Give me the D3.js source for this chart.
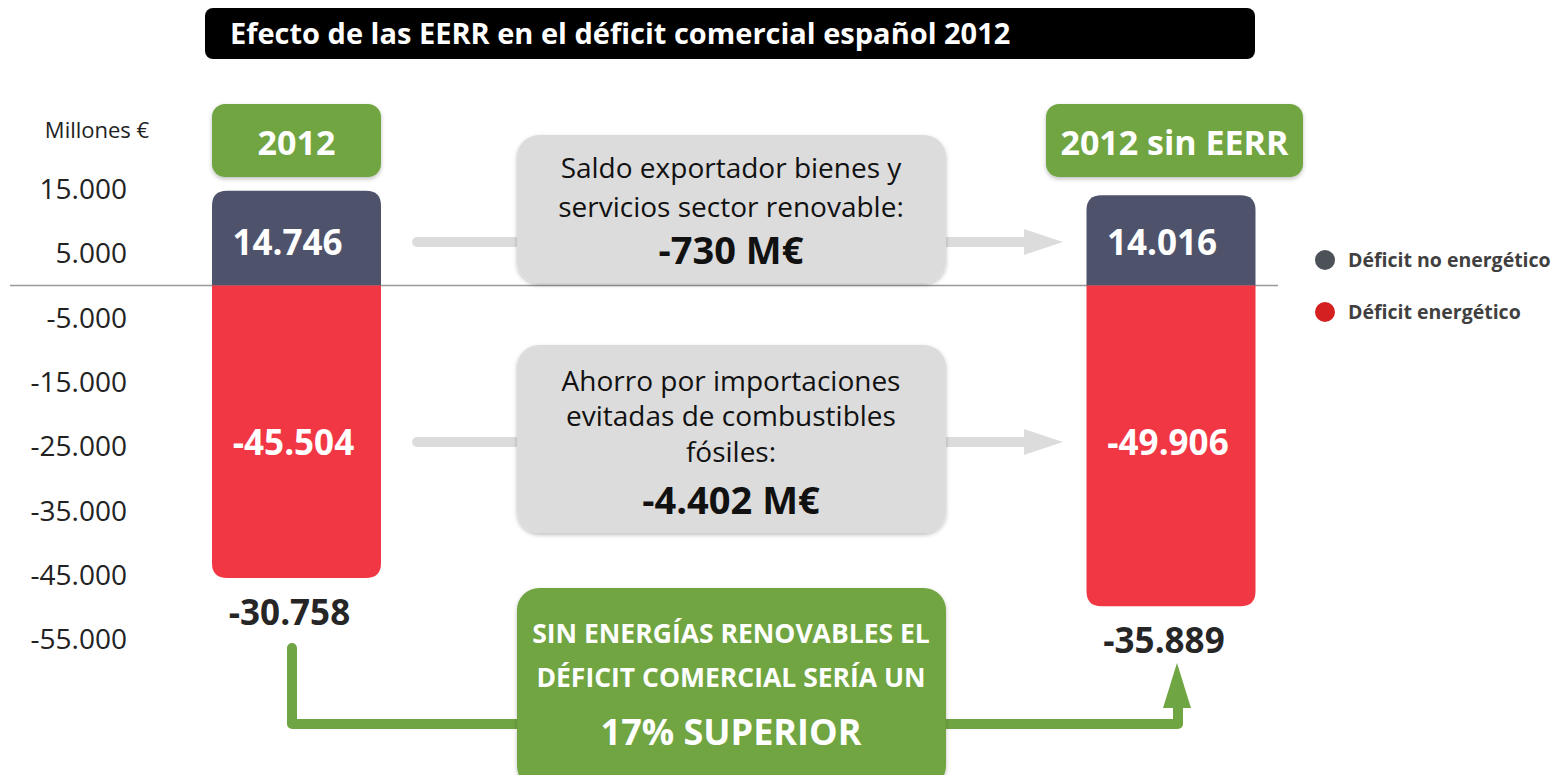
<!DOCTYPE html>
<html>
<head>
<meta charset="utf-8">
<script src="https://cdn.jsdelivr.net/npm/d3@7"></script>
<style>
  body { margin: 0; background: #fff; }
  text { font-family: "Open Sans", "Noto Sans", sans-serif; }
</style>
</head>
<body>
<script>
// data
var categories = ["2012", "2012 sin EERR"];
var nonEnergy = [14746, 14016];
var energy = [-45504, -49906];
var totals = [-30758, -35889];
var ticks = [15000, 5000, -5000, -15000, -25000, -35000, -45000, -55000];
var legendLabels = ["Déficit no energético", "Déficit energético"];

var w = 1558, h = 775;
var navy = "#4e536b", red = "#f23744", green = "#70a543", grey = "#dcdcdc";

var es = d3.formatLocale({decimal: ",", thousands: ".", grouping: [3], currency: ["", "€"], minus: "-"});
var fmt = es.format(",d");

var svg = d3.select("body").append("svg")
  .attr("width", w)
  .attr("height", h);

var defs = svg.append("defs");
var sh = defs.append("filter").attr("id", "shadow")
  .attr("x", "-10%").attr("y", "-10%").attr("width", "120%").attr("height", "130%");
sh.append("feDropShadow").attr("dx", 0).attr("dy", 2).attr("stdDeviation", 2)
  .attr("flood-color", "#000").attr("flood-opacity", 0.25);

var y = d3.scaleLinear().domain([15000, -55000]).range([189, 639]);
var x = d3.scalePoint().domain(categories).range([296.5, 1171]);
var barW = 169;

// title
svg.append("rect").attr("x", 205).attr("y", 8).attr("width", 1050).attr("height", 51)
  .attr("rx", 8).attr("fill", "#000");
svg.append("text").attr("x", 230).attr("y", 44)
  .attr("font-size", "29px").attr("font-weight", "bold").attr("fill", "#fff")
  .text("Efecto de las EERR en el déficit comercial español 2012");

// axis labels
svg.append("text").attr("x", 97).attr("y", 138).attr("text-anchor", "middle")
  .attr("font-size", "22px").attr("fill", "#222").text("Millones €");

svg.selectAll("text.tick")
  .data(ticks)
  .enter()
  .append("text")
  .attr("class", "tick")
  .attr("x", 127)
  .attr("y", function(d) { return y(d); })
  .attr("dy", "0.36em")
  .attr("text-anchor", "end")
  .attr("font-size", "28px")
  .attr("fill", "#222")
  .text(function(d) { return fmt(d); });

// gray arrows
var arrowYs = [242, 442];
arrowYs.forEach(function(ay) {
  svg.append("line").attr("x1", 417).attr("x2", 1030).attr("y1", ay).attr("y2", ay)
    .attr("stroke", grey).attr("stroke-width", 10).attr("stroke-linecap", "round");
  svg.append("path")
    .attr("d", "M1024," + (ay - 13) + "L1063," + ay + "L1024," + (ay + 13) + "Z")
    .attr("fill", grey);
});

// zero line
svg.append("line").attr("x1", 10).attr("x2", 1278).attr("y1", y(0)).attr("y2", y(0))
  .attr("stroke", "#999").attr("stroke-width", 1.5);

// gray info boxes
svg.append("rect").attr("x", 517).attr("y", 135).attr("width", 429).attr("height", 148)
  .attr("rx", 22).attr("fill", grey).attr("filter", "url(#shadow)");
svg.append("rect").attr("x", 517).attr("y", 345).attr("width", 429).attr("height", 188)
  .attr("rx", 22).attr("fill", grey).attr("filter", "url(#shadow)");

var box1 = [["Saldo exportador bienes y", 178, 28, "normal"],
            ["servicios sector renovable:", 217, 28, "normal"],
            ["-730 M€", 264, 38, "bold"]];
var box2 = [["Ahorro por importaciones", 391, 28, "normal"],
            ["evitadas de combustibles", 426, 28, "normal"],
            ["fósiles:", 462, 28, "normal"],
            ["-4.402 M€", 514, 38, "bold"]];
box1.concat(box2).forEach(function(l) {
  svg.append("text").attr("x", 731).attr("y", l[1]).attr("text-anchor", "middle")
    .attr("font-size", l[2] + "px").attr("font-weight", l[3]).attr("fill", "#111")
    .text(l[0]);
});

// green connector
svg.append("path")
  .attr("d", "M292,648 L292,724 L1178,724 L1178,700")
  .attr("fill", "none").attr("stroke", green).attr("stroke-width", 10)
  .attr("stroke-linejoin", "round").attr("stroke-linecap", "round");
svg.append("path").attr("d", "M1163,708 L1177,663 L1191,708 Z").attr("fill", green);

// green bottom box
svg.append("rect").attr("x", 517).attr("y", 588).attr("width", 429).attr("height", 200)
  .attr("rx", 22).attr("fill", green).attr("filter", "url(#shadow)");
[["SIN ENERGÍAS RENOVABLES EL", 643, 26.5], ["DÉFICIT COMERCIAL SERÍA UN", 687, 26.5],
 ["17% SUPERIOR", 745, 36]].forEach(function(l) {
  svg.append("text").attr("x", 731).attr("y", l[1]).attr("text-anchor", "middle")
    .attr("font-size", l[2] + "px").attr("font-weight", "bold").attr("fill", "#fff")
    .text(l[0]);
});

// category header boxes
var headW = [169, 257];
svg.selectAll("rect.head")
  .data(categories)
  .enter()
  .append("rect")
  .attr("class", "head")
  .attr("x", function(d, i) { return i === 0 ? x(d) - barW / 2 : 1046; })
  .attr("y", 104)
  .attr("width", function(d, i) { return headW[i]; })
  .attr("height", 73)
  .attr("rx", 13)
  .attr("fill", green)
  .attr("filter", "url(#shadow)");
svg.selectAll("text.head")
  .data(categories)
  .enter()
  .append("text")
  .attr("class", "head")
  .attr("x", function(d, i) { return i === 0 ? x(d) : 1046 + headW[1] / 2; })
  .attr("y", 155)
  .attr("text-anchor", "middle")
  .attr("font-size", "34px")
  .attr("font-weight", "bold")
  .attr("fill", "#fff")
  .text(function(d) { return d; });

// bars: rounded ends on outer side only
function roundedBar(x0, y0, y1, r, top) {
  var x1 = x0 + barW;
  if (top) {
    return "M" + x0 + "," + y1 + "L" + x0 + "," + (y0 + r) +
      "Q" + x0 + "," + y0 + " " + (x0 + r) + "," + y0 +
      "L" + (x1 - r) + "," + y0 + "Q" + x1 + "," + y0 + " " + x1 + "," + (y0 + r) +
      "L" + x1 + "," + y1 + "Z";
  }
  return "M" + x0 + "," + y0 + "L" + x0 + "," + (y1 - r) +
    "Q" + x0 + "," + y1 + " " + (x0 + r) + "," + y1 +
    "L" + (x1 - r) + "," + y1 + "Q" + x1 + "," + y1 + " " + x1 + "," + (y1 - r) +
    "L" + x1 + "," + y0 + "Z";
}

svg.selectAll("path.nonE")
  .data(nonEnergy)
  .enter()
  .append("path")
  .attr("class", "nonE")
  .attr("d", function(d, i) { return roundedBar(x(categories[i]) - barW / 2, y(d), y(0), 15, true); })
  .attr("fill", navy);

svg.selectAll("path.en")
  .data(energy)
  .enter()
  .append("path")
  .attr("class", "en")
  .attr("d", function(d, i) { return roundedBar(x(categories[i]) - barW / 2, y(0), y(d), 15, false); })
  .attr("fill", red);

svg.selectAll("text.nonE")
  .data(nonEnergy)
  .enter()
  .append("text")
  .attr("x", function(d, i) { return x(categories[i]) - 9; })
  .attr("y", 255)
  .attr("text-anchor", "middle")
  .attr("font-size", "35px")
  .attr("font-weight", "bold")
  .attr("fill", "#fff")
  .text(function(d) { return fmt(d); });

svg.selectAll("text.en")
  .data(energy)
  .enter()
  .append("text")
  .attr("x", function(d, i) { return x(categories[i]) - 3; })
  .attr("y", 455)
  .attr("text-anchor", "middle")
  .attr("font-size", "35px")
  .attr("font-weight", "bold")
  .attr("fill", "#fff")
  .text(function(d) { return fmt(d); });

svg.selectAll("text.tot")
  .data(totals)
  .enter()
  .append("text")
  .attr("x", function(d, i) { return x(categories[i]) - 7; })
  .attr("y", function(d, i) { return y(energy[i]) + 47; })
  .attr("text-anchor", "middle")
  .attr("font-size", "35px")
  .attr("font-weight", "bold")
  .attr("fill", "#262626")
  .text(function(d) { return fmt(d); });

// legend
var legColors = ["#4d5258", "#d42020"];
legendLabels.forEach(function(l, i) {
  svg.append("circle").attr("cx", 1325).attr("cy", 260 + i * 52).attr("r", 10).attr("fill", legColors[i]);
  svg.append("text").attr("x", 1348).attr("y", 260 + i * 52).attr("dy", "0.35em")
    .attr("font-size", "19.5px").attr("font-weight", "bold").attr("fill", "#404040").text(l);
});
</script>
</body>
</html>
